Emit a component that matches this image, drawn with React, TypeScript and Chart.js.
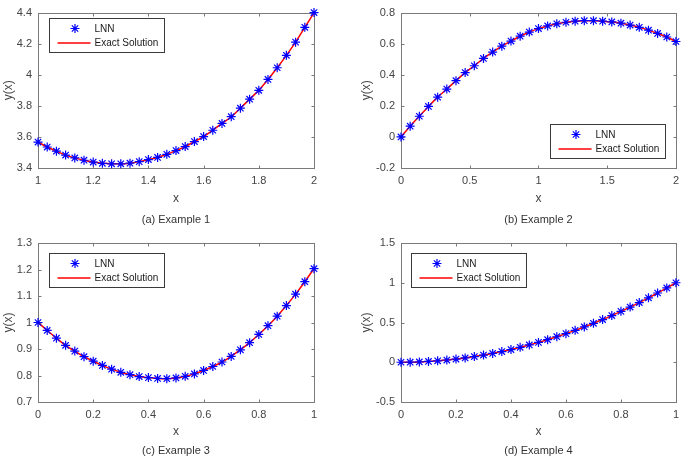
import React, { useEffect, useRef } from 'react';
import { Chart, registerables } from 'chart.js';

Chart.register(...registerables);

const FONT = '"Liberation Sans", Arial, Helvetica, sans-serif';
const AXIS_COLOR = '#7a7a7a';
const TEXT_COLOR = '#444444';
const MARKER_COLOR = '#0000ff';
const LINE_COLOR = '#ff0000';

// ---------- Example 1 ----------
const xA = [1, 1.0333, 1.0667, 1.1, 1.1333, 1.1667, 1.2, 1.2333, 1.2667, 1.3, 1.3333, 1.3667, 1.4, 1.4333, 1.4667, 1.5, 1.5333, 1.5667, 1.6, 1.6333, 1.6667, 1.7, 1.7333, 1.7667, 1.8, 1.8333, 1.8667, 1.9, 1.9333, 1.9667, 2];
const yA = [3.567, 3.535, 3.508, 3.483, 3.465, 3.45, 3.438, 3.43, 3.427, 3.427, 3.431, 3.441, 3.454, 3.468, 3.488, 3.512, 3.538, 3.57, 3.602, 3.643, 3.687, 3.73, 3.785, 3.843, 3.9, 3.97, 4.045, 4.125, 4.21, 4.305, 4.4];
const xTicksA = ['1', '1.2', '1.4', '1.6', '1.8', '2'];
const yTicksA = ['3.4', '3.6', '3.8', '4', '4.2', '4.4'];

// ---------- Example 2 ----------
const xB = [0, 0.0667, 0.1333, 0.2, 0.2667, 0.3333, 0.4, 0.4667, 0.5333, 0.6, 0.6667, 0.7333, 0.8, 0.8667, 0.9333, 1, 1.0667, 1.1333, 1.2, 1.2667, 1.3333, 1.4, 1.4667, 1.5333, 1.6, 1.6667, 1.7333, 1.8, 1.8667, 1.9333, 2];
const yB = [0, 0.069, 0.133, 0.196, 0.256, 0.308, 0.362, 0.414, 0.458, 0.505, 0.546, 0.584, 0.617, 0.648, 0.675, 0.697, 0.714, 0.728, 0.738, 0.745, 0.748, 0.748, 0.745, 0.74, 0.732, 0.72, 0.705, 0.687, 0.666, 0.643, 0.614];
const xTicksB = ['0', '0.5', '1', '1.5', '2'];
const yTicksB = ['-0.2', '0', '0.2', '0.4', '0.6', '0.8'];

// ---------- Example 3 ----------
const xC = [0, 0.0333, 0.0667, 0.1, 0.1333, 0.1667, 0.2, 0.2333, 0.2667, 0.3, 0.3333, 0.3667, 0.4, 0.4333, 0.4667, 0.5, 0.5333, 0.5667, 0.6, 0.6333, 0.6667, 0.7, 0.7333, 0.7667, 0.8, 0.8333, 0.8667, 0.9, 0.9333, 0.9667, 1];
const yC = [1.0, 0.97, 0.941, 0.914, 0.892, 0.871, 0.854, 0.838, 0.824, 0.812, 0.803, 0.796, 0.792, 0.789, 0.788, 0.791, 0.797, 0.806, 0.819, 0.834, 0.851, 0.872, 0.897, 0.924, 0.955, 0.988, 1.024, 1.064, 1.107, 1.154, 1.203];
const xTicksC = ['0', '0.2', '0.4', '0.6', '0.8', '1'];
const yTicksC = ['0.7', '0.8', '0.9', '1', '1.1', '1.2', '1.3'];

// ---------- Example 4 ----------
const xD = [0, 0.0333, 0.0667, 0.1, 0.1333, 0.1667, 0.2, 0.2333, 0.2667, 0.3, 0.3333, 0.3667, 0.4, 0.4333, 0.4667, 0.5, 0.5333, 0.5667, 0.6, 0.6333, 0.6667, 0.7, 0.7333, 0.7667, 0.8, 0.8333, 0.8667, 0.9, 0.9333, 0.9667, 1];
const yD = [0, 0.001, 0.004, 0.01, 0.018, 0.028, 0.04, 0.054, 0.071, 0.09, 0.111, 0.134, 0.16, 0.188, 0.218, 0.25, 0.284, 0.321, 0.36, 0.401, 0.444, 0.49, 0.537, 0.587, 0.64, 0.694, 0.751, 0.81, 0.871, 0.935, 1.0];
const xTicksD = ['0', '0.2', '0.4', '0.6', '0.8', '1'];
const yTicksD = ['-0.5', '0', '0.5', '1', '1.5'];

const SERIES_LABELS = ['LNN', 'Exact Solution'];
const CAPTIONS = ['(a) Example 1', '(b) Example 2', '(c) Example 3', '(d) Example 4'];

type Panel = {
  left: number; top: number; w: number; h: number;
  L: number; R: number; T: number; B: number;
  xs: number[]; ys: number[];
  xTicks: string[]; yTicks: string[];
  caption: string;
  legendX: number; legendY: number;
  yTitleX: number; xTitleY: number; captionY: number;
};

const PANELS: Panel[] = [
  { left: 0, top: 0, w: 342, h: 230, L: 38, R: 314, T: 8, B: 168, xs: xA, ys: yA, xTicks: xTicksA, yTicks: yTicksA, caption: CAPTIONS[0], legendX: 49, legendY: 18, yTitleX: 9, xTitleY: 199, captionY: 219 },
  { left: 342, top: 0, w: 343, h: 230, L: 59, R: 334, T: 8, B: 168, xs: xB, ys: yB, xTicks: xTicksB, yTicks: yTicksB, caption: CAPTIONS[1], legendX: 208, legendY: 124, yTitleX: 25, xTitleY: 199, captionY: 219 },
  { left: 0, top: 230, w: 342, h: 230, L: 38, R: 314, T: 13, B: 172, xs: xC, ys: yC, xTicks: xTicksC, yTicks: yTicksC, caption: CAPTIONS[2], legendX: 49, legendY: 23, yTitleX: 9, xTitleY: 202, captionY: 220 },
  { left: 342, top: 230, w: 343, h: 230, L: 59, R: 334, T: 13, B: 172, xs: xD, ys: yD, xTicks: xTicksD, yTicks: yTicksD, caption: CAPTIONS[3], legendX: 69, legendY: 23, yTitleX: 25, xTitleY: 202, captionY: 220 },
];

function drawStar(ctx: CanvasRenderingContext2D, x: number, y: number, r: number) {
  ctx.beginPath();
  for (let k = 0; k < 4; k++) {
    const a = (k * Math.PI) / 4;
    const dx = Math.cos(a) * r;
    const dy = Math.sin(a) * r;
    ctx.moveTo(x - dx, y - dy);
    ctx.lineTo(x + dx, y + dy);
  }
  ctx.stroke();
}

function makeFramePlugin(p: Panel) {
  return {
    id: 'frameAndExtras',
    beforeDatasetsDraw(chart: any) {
      const { ctx, chartArea } = chart;
      const left = Math.round(chartArea.left) + 0.5;
      const right = Math.round(chartArea.right) + 0.5;
      const top = Math.round(chartArea.top) + 0.5;
      const bottom = Math.round(chartArea.bottom) + 0.5;
      ctx.save();
      ctx.setLineDash([]);
      ctx.strokeStyle = AXIS_COLOR;
      ctx.lineWidth = 1;
      ctx.strokeRect(left, top, right - left, bottom - top);
      const tl = 3;
      const xs = chart.scales.x;
      const ys = chart.scales.y;
      ctx.beginPath();
      xs.ticks.forEach((t: any) => {
        const px = Math.round(xs.getPixelForValue(t.value)) + 0.5;
        ctx.moveTo(px, bottom); ctx.lineTo(px, bottom - tl);
        ctx.moveTo(px, top); ctx.lineTo(px, top + tl);
      });
      ys.ticks.forEach((t: any) => {
        const py = Math.round(ys.getPixelForValue(t.value)) + 0.5;
        ctx.moveTo(left, py); ctx.lineTo(left + tl, py);
        ctx.moveTo(right, py); ctx.lineTo(right - tl, py);
      });
      ctx.stroke();
      ctx.restore();
    },
    afterDraw(chart: any) {
      const { ctx, chartArea } = chart;
      ctx.save();
      ctx.setLineDash([]);
      // legend box
      const bx = p.legendX + 0.5, by = p.legendY + 0.5, bw = 115, bh = 34;
      ctx.fillStyle = '#ffffff';
      ctx.fillRect(bx, by, bw, bh);
      ctx.strokeStyle = '#3a3a3a';
      ctx.lineWidth = 1;
      ctx.strokeRect(bx, by, bw, bh);
      ctx.strokeStyle = MARKER_COLOR;
      ctx.lineWidth = 1.2;
      drawStar(ctx, bx + 25.5, by + 10, 4.5);
      ctx.strokeStyle = LINE_COLOR;
      ctx.lineWidth = 1.5;
      ctx.beginPath();
      ctx.moveTo(bx + 8, by + 24.5);
      ctx.lineTo(bx + 41, by + 24.5);
      ctx.stroke();
      ctx.fillStyle = '#1a1a1a';
      ctx.font = `10px ${FONT}`;
      ctx.textAlign = 'left';
      ctx.textBaseline = 'middle';
      ctx.fillText(SERIES_LABELS[0], bx + 45, by + 11);
      ctx.fillText(SERIES_LABELS[1], bx + 45, by + 25);
      // caption
      ctx.fillStyle = '#333333';
      ctx.font = `11px ${FONT}`;
      ctx.textAlign = 'center';
      ctx.fillText(p.caption, (chartArea.left + chartArea.right) / 2, p.captionY + 1);
      ctx.restore();
    },
  };
}

function PanelChart({ p }: { p: Panel }) {
  const ref = useRef<HTMLCanvasElement | null>(null);
  useEffect(() => {
    if (!ref.current) return;
    const pts = p.xs.map((x, i) => ({ x, y: p.ys[i] }));
    const xVals = p.xTicks.map(Number);
    const yVals = p.yTicks.map(Number);
    const fmt = (v: number) => String(Math.round(v * 1000) / 1000);
    const chart = new Chart(ref.current, {
      type: 'line',
      data: {
        datasets: [
          {
            label: SERIES_LABELS[0],
            data: pts,
            showLine: false,
            pointStyle: 'star',
            pointRadius: 4.5,
            pointBorderWidth: 1.2,
            borderColor: MARKER_COLOR,
            backgroundColor: MARKER_COLOR,
            pointBorderColor: MARKER_COLOR,
            clip: false,
            order: 0,
          } as any,
          {
            label: SERIES_LABELS[1],
            data: pts,
            borderColor: LINE_COLOR,
            backgroundColor: LINE_COLOR,
            borderWidth: 1.5,
            pointRadius: 0,
            cubicInterpolationMode: 'monotone',
            clip: false,
            order: 1,
          } as any,
        ],
      },
      options: {
        responsive: false,
        animation: false,
        events: [],
        layout: { padding: { left: 0, top: p.T, right: p.w - p.R, bottom: 0 } },
        plugins: { legend: { display: false }, tooltip: { enabled: false }, title: { display: false } },
        scales: {
          x: {
            type: 'linear',
            min: xVals[0],
            max: xVals[xVals.length - 1],
            afterBuildTicks: (s: any) => { s.ticks = xVals.map((v) => ({ value: v })); },
            afterFit: (s: any) => { s.height = p.h - p.B; },
            grid: { display: false, drawTicks: false },
            border: { display: false },
            ticks: {
              callback: (v: any) => fmt(Number(v)),
              font: { family: FONT, size: 11 },
              color: TEXT_COLOR,
              padding: 6,
              maxRotation: 0,
              autoSkip: false,
            },
            title: {
              display: true,
              text: 'x',
              font: { family: FONT, size: 12, lineHeight: 1 },
              color: TEXT_COLOR,
              padding: { top: 0, bottom: p.h - p.xTitleY - 6 },
            },
          },
          y: {
            type: 'linear',
            min: yVals[0],
            max: yVals[yVals.length - 1],
            afterBuildTicks: (s: any) => { s.ticks = yVals.map((v) => ({ value: v })); },
            afterFit: (s: any) => { s.width = p.L; },
            grid: { display: false, drawTicks: false },
            border: { display: false },
            ticks: {
              callback: (v: any) => fmt(Number(v)),
              font: { family: FONT, size: 11 },
              color: TEXT_COLOR,
              padding: 6,
              autoSkip: false,
            },
            title: {
              display: true,
              text: 'y(x)',
              font: { family: FONT, size: 12, lineHeight: 1 },
              color: TEXT_COLOR,
              padding: { top: p.yTitleX - 6, bottom: 0 },
            },
          },
        },
      } as any,
      plugins: [makeFramePlugin(p)],
    });
    return () => chart.destroy();
  }, [p]);
  return (
    <canvas
      ref={ref}
      width={p.w}
      height={p.h}
      style={{ position: 'absolute', left: p.left, top: p.top, width: p.w, height: p.h, display: 'block' }}
    />
  );
}

export default function App() {
  return (
    <div style={{ position: 'absolute', left: 0, top: 0, width: 685, height: 460, background: '#ffffff', overflow: 'hidden' }}>
      {PANELS.map((p, i) => (
        <PanelChart key={i} p={p} />
      ))}
    </div>
  );
}
